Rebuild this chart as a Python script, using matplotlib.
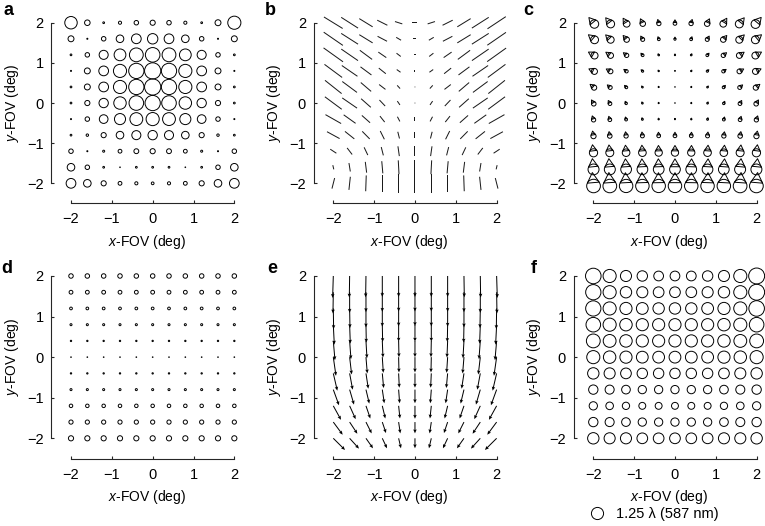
import numpy as np
import matplotlib.pyplot as plt
from matplotlib.patches import Circle, Polygon
from matplotlib.collections import PatchCollection
from matplotlib.lines import Line2D

plt.rcParams['font.family'] = ['Liberation Sans', 'DejaVu Sans']
plt.rcParams['mathtext.fontset'] = 'custom'
plt.rcParams['mathtext.it'] = 'Liberation Sans:italic'
plt.rcParams['mathtext.rm'] = 'Liberation Sans'

# field grid (deg); rows of every table run from y = +2 (top) to y = -2
x_fov = [-2.0, -1.6, -1.2, -0.8, -0.4, 0.0, 0.4, 0.8, 1.2, 1.6, 2.0]
y_fov = [2.0, 1.6, 1.2, 0.8, 0.4, 0.0, -0.4, -0.8, -1.2, -1.6, -2.0]
ticks = [-2, -1, 0, 1, 2]

# a: circle size (lambda)
field_curv = [
    [1.28, 0.57, 0.18, 0.32, 0.46, 0.53, 0.46, 0.32, 0.18, 0.61, 1.35],
    [0.61, 0.11, 0.46, 0.78, 1.00, 1.07, 1.00, 0.78, 0.46, 0.11, 0.61],
    [0.18, 0.46, 0.93, 1.21, 1.42, 1.50, 1.42, 1.21, 0.93, 0.46, 0.18],
    [0.11, 0.61, 1.00, 1.35, 1.57, 1.67, 1.57, 1.35, 1.00, 0.61, 0.11],
    [0.18, 0.61, 1.00, 1.35, 1.57, 1.67, 1.57, 1.35, 1.00, 0.61, 0.18],
    [0.18, 0.53, 0.96, 1.28, 1.50, 1.57, 1.50, 1.28, 0.96, 0.53, 0.18],
    [0.11, 0.46, 0.89, 1.14, 1.32, 1.35, 1.32, 1.14, 0.89, 0.46, 0.11],
    [0.18, 0.25, 0.53, 0.78, 0.93, 0.96, 0.93, 0.78, 0.53, 0.25, 0.18],
    [0.46, 0.11, 0.21, 0.39, 0.50, 0.53, 0.50, 0.39, 0.21, 0.11, 0.46],
    [0.78, 0.46, 0.18, 0.07, 0.18, 0.18, 0.18, 0.07, 0.18, 0.46, 0.78],
    [1.00, 0.78, 0.53, 0.39, 0.32, 0.28, 0.32, 0.39, 0.53, 0.78, 1.00],
]

# b: astigmatism line length (a.u.) and orientation (deg)
astig_len = [
    [66, 60, 47, 34, 23, 15, 23, 34, 47, 60, 66],
    [70, 60, 47, 32, 17, 9, 17, 32, 47, 60, 68],
    [72, 61, 46, 29, 16, 5, 16, 29, 46, 61, 70],
    [66, 57, 41, 27, 14, 4, 14, 27, 41, 57, 66],
    [64, 55, 41, 24, 13, 3, 13, 24, 41, 55, 64],
    [63, 54, 39, 25, 14, 2, 14, 25, 39, 54, 63],
    [54, 44, 33, 23, 16, 12, 16, 23, 33, 44, 54],
    [43, 36, 32, 28, 21, 18, 21, 28, 32, 36, 43],
    [22, 25, 26, 26, 30, 30, 30, 26, 26, 25, 22],
    [13, 26, 33, 37, 42, 44, 42, 37, 33, 26, 13],
    [33, 40, 48, 53, 57, 57, 57, 53, 48, 40, 33],
]
astig_ang = [
    [-32, -33, -32, -27, -18, 0, 18, 27, 32, 33, 34],
    [-35, -33, -32, -28, -31, 0, 31, 28, 32, 33, 35],
    [-36, -35, -37, -35, -38, 0, 38, 35, 37, 35, 36],
    [-37, -35, -37, -39, -36, 90, 36, 39, 37, 35, 37],
    [-39, -37, -41, -38, -48, 90, 48, 38, 41, 37, 39],
    [-37, -35, -42, -47, -56, 90, 56, 47, 42, 35, 37],
    [-30, -36, -42, -52, -63, 90, 63, 52, 42, 36, 30],
    [-29, -39, -46, -64, -76, 90, 76, 64, 46, 39, 29],
    [-34, -53, -65, -76, -82, 90, 82, 76, 65, 53, 34],
    [-77, -81, -83, -85, -87, 90, 87, 85, 83, 81, 77],
    [76, 84, 88, 90, 90, 90, 90, 90, -88, -84, -76],
]

# c: coma blur size (lambda) and tail direction (deg)
coma_size = [
    [1.00, 0.93, 0.78, 0.64, 0.50, 0.43, 0.50, 0.64, 0.78, 0.93, 1.03],
    [0.93, 0.82, 0.64, 0.46, 0.32, 0.25, 0.32, 0.46, 0.64, 0.82, 0.93],
    [0.82, 0.68, 0.50, 0.32, 0.18, 0.14, 0.18, 0.32, 0.50, 0.68, 0.82],
    [0.71, 0.57, 0.39, 0.25, 0.14, 0.07, 0.14, 0.25, 0.39, 0.57, 0.71],
    [0.61, 0.46, 0.32, 0.18, 0.11, 0.04, 0.11, 0.18, 0.32, 0.46, 0.61],
    [0.53, 0.43, 0.28, 0.18, 0.11, 0.04, 0.11, 0.18, 0.28, 0.43, 0.53],
    [0.50, 0.43, 0.32, 0.21, 0.14, 0.11, 0.14, 0.21, 0.32, 0.43, 0.50],
    [0.61, 0.53, 0.50, 0.46, 0.43, 0.43, 0.43, 0.46, 0.50, 0.53, 0.61],
    [0.96, 0.93, 0.89, 0.89, 0.85, 0.85, 0.85, 0.89, 0.89, 0.93, 0.96],
    [1.28, 1.28, 1.25, 1.25, 1.25, 1.25, 1.25, 1.25, 1.25, 1.28, 1.28],
    [1.60, 1.60, 1.57, 1.57, 1.57, 1.57, 1.57, 1.57, 1.57, 1.60, 1.60],
]
coma_ang = [
    [130, 128, 122, 115, 105, 90, 75, 65, 58, 52, 50],
    [140, 135, 130, 120, 108, 90, 72, 60, 50, 45, 40],
    [150, 145, 140, 130, 115, 90, 65, 50, 40, 35, 30],
    [155, 150, 145, 135, 120, 90, 60, 45, 35, 30, 25],
    [140, 138, 132, 125, 112, 90, 68, 55, 48, 42, 40],
    [120, 118, 115, 110, 103, 90, 77, 70, 65, 62, 60],
    [108, 107, 105, 102, 98, 90, 82, 78, 75, 73, 72],
    [100, 99, 98, 96, 94, 90, 86, 84, 82, 81, 80],
    [97, 96, 95, 94, 92, 90, 88, 86, 85, 84, 83],
    [96, 95, 94, 93, 92, 90, 88, 87, 86, 85, 84],
    [95, 94, 93, 92, 91, 90, 89, 88, 87, 86, 85],
]

# d: spherical term (lambda), same along each row
spherical_rows = [0.46, 0.39, 0.28, 0.21, 0.14, 0.07, 0.14, 0.21, 0.36, 0.43, 0.53]

# e: distortion vectors (a.u.)
dist_u = [
    [-2, -1, -1, 0, 0, 0, 0, 0, 1, 1, 2],
    [-1, 0, 0, 0, 0, 0, 0, 0, 0, 0, 1],
    [1, 1, 0, 0, 0, 0, 0, 0, 0, -1, -1],
    [3, 2, 1, 1, 0, 0, 0, -1, -1, -2, -3],
    [5, 4, 3, 2, 1, 0, -1, -2, -3, -4, -5],
    [8, 6, 4, 3, 1, 0, -1, -3, -4, -6, -8],
    [12, 9, 7, 4, 2, 0, -2, -4, -7, -9, -12],
    [17, 13, 10, 6, 3, 0, -3, -6, -10, -13, -17],
    [23, 18, 13, 9, 4, 0, -4, -9, -13, -18, -23],
    [28, 23, 17, 11, 5, 0, -5, -11, -17, -23, -28],
    [35, 28, 21, 14, 7, 0, -7, -14, -21, -28, -35],
]
dist_v = [
    [-66, -65, -64, -63, -63, -63, -63, -63, -64, -65, -66],
    [-64, -62, -60, -59, -58, -58, -58, -59, -60, -62, -64],
    [-62, -59, -57, -55, -54, -53, -54, -55, -57, -59, -62],
    [-60, -57, -54, -52, -51, -51, -51, -52, -54, -57, -60],
    [-58, -55, -52, -50, -49, -49, -49, -50, -52, -55, -58],
    [-56, -52, -49, -47, -46, -46, -46, -47, -49, -52, -56],
    [-52, -49, -46, -44, -43, -43, -43, -44, -46, -49, -52],
    [-47, -45, -42, -41, -41, -41, -41, -41, -42, -45, -47],
    [-42, -40, -38, -38, -38, -39, -38, -38, -38, -40, -42],
    [-38, -35, -34, -33, -34, -34, -34, -33, -34, -35, -38],
    [-35, -31, -30, -30, -30, -30, -30, -30, -30, -31, -35],
]

# f: total wavefront error (lambda)
total_err = [
    [1.60, 1.35, 1.14, 1.07, 1.00, 1.00, 1.00, 1.07, 1.14, 1.35, 1.64],
    [1.57, 1.35, 1.17, 1.14, 1.10, 1.10, 1.10, 1.14, 1.17, 1.35, 1.64],
    [1.57, 1.35, 1.25, 1.21, 1.17, 1.17, 1.17, 1.21, 1.25, 1.35, 1.60],
    [1.50, 1.35, 1.28, 1.25, 1.25, 1.25, 1.25, 1.25, 1.28, 1.35, 1.50],
    [1.42, 1.32, 1.28, 1.25, 1.25, 1.25, 1.25, 1.25, 1.28, 1.32, 1.42],
    [1.35, 1.28, 1.25, 1.21, 1.21, 1.21, 1.21, 1.21, 1.25, 1.28, 1.35],
    [1.17, 1.14, 1.10, 1.07, 1.07, 1.07, 1.07, 1.07, 1.10, 1.14, 1.17],
    [0.96, 0.93, 0.89, 0.85, 0.85, 0.85, 0.85, 0.85, 0.89, 0.93, 0.96],
    [0.85, 0.78, 0.75, 0.71, 0.71, 0.71, 0.71, 0.71, 0.75, 0.78, 0.85],
    [0.96, 0.93, 0.89, 0.85, 0.85, 0.85, 0.85, 0.85, 0.89, 0.93, 0.96],
    [1.17, 1.14, 1.14, 1.10, 1.10, 1.10, 1.10, 1.10, 1.14, 1.14, 1.17],
]

legend_label = '1.25 λ (587 nm)'

LAM_PT = 7.0      # circle diameter in points per lambda
COMA_DEG = 0.21   # comet circle diameter in deg per lambda
LINE_SCALE = 122  # a.u. per deg for b and e
LW = 0.7

X, Y = np.meshgrid(x_fov, y_fov)

fig = plt.figure(figsize=(7.65, 5.26), dpi=100)
W, H = 765, 526


def make_ax(left_px, bottom_px, height_px):
    ax = fig.add_axes([left_px / W, 1 - bottom_px / H, 191.1 / W, height_px / H])
    ax.set_xlim(-2.48, 2.2)
    ax.set_ylim(-2.5, 2.5)
    ax.patch.set_visible(False)
    for s in ['top', 'right']:
        ax.spines[s].set_visible(False)
    for s in ['left', 'bottom']:
        ax.spines[s].set_bounds(-2, 2)
        ax.spines[s].set_linewidth(0.8)
        ax.spines[s].set_color('0.15')
    ax.set_xticks(ticks)
    ax.set_yticks(ticks)
    ax.tick_params(direction='in', length=2.5, width=0.8, color='0.15', labelsize=10.5)
    ax.tick_params(axis='x', pad=6.5)
    ax.tick_params(axis='y', pad=5.5)
    ax.set_xlabel('$x$-FOV (deg)', fontsize=10, labelpad=4.5)
    ax.set_ylabel('$y$-FOV (deg)', fontsize=10, labelpad=4.5)
    return ax


lefts = [51.4, 313.7, 573.7]
ax_a = make_ax(lefts[0], 203.4, 200.75)
ax_b = make_ax(lefts[1], 203.4, 200.75)
ax_c = make_ax(lefts[2], 203.4, 200.75)
ax_d = make_ax(lefts[0], 458.6, 202.9)
ax_e = make_ax(lefts[1], 458.6, 202.9)
ax_f = make_ax(lefts[2], 458.6, 202.9)


def circles(ax, vals):
    v = np.asarray(vals, dtype=float)
    ax.scatter(X, Y, s=(v * LAM_PT) ** 2, facecolors='none', edgecolors='k',
               linewidths=LW, clip_on=False)


# a
circles(ax_a, field_curv)

# b - headless segments centred on the field points
L = np.asarray(astig_len, dtype=float)
A = np.deg2rad(np.asarray(astig_ang, dtype=float))
ax_b.quiver(X, Y, L * np.cos(A), L * np.sin(A), pivot='middle', angles='xy',
            scale_units='xy', scale=LINE_SCALE, units='dots', width=1.0,
            headwidth=0, headlength=0, headaxislength=0, color='0.1', clip_on=False)

# c - comet shapes
patches = []
for i, yv in enumerate(y_fov):
    for j, xv in enumerate(x_fov):
        r = 0.5 * coma_size[i][j] * COMA_DEG
        th = np.deg2rad(coma_ang[i][j])
        u = np.array([np.cos(th), np.sin(th)])
        n = np.array([-u[1], u[0]])
        c = np.array([xv, yv]) - 0.4 * r * u
        patches.append(Circle(c, r))
        apex = c + 2 * r * u
        t1 = c + r * (0.5 * u + np.sqrt(3) / 2 * n)
        t2 = c + r * (0.5 * u - np.sqrt(3) / 2 * n)
        patches.append(Polygon([apex, t1, t2], closed=True))
ax_c.add_collection(PatchCollection(patches, facecolor='none', edgecolor='k',
                                    linewidth=LW, clip_on=False))

# d
circles(ax_d, np.tile(np.asarray(spherical_rows)[:, None], (1, len(x_fov))))

# e - distortion arrows
ax_e.quiver(X, Y, dist_u, dist_v, pivot='tail', angles='xy', scale_units='xy',
            scale=LINE_SCALE, units='dots', width=1.0, headwidth=3.5,
            headlength=4, headaxislength=3.5, color='k', clip_on=False)

# f
circles(ax_f, total_err)

# legend
h = Line2D([], [], marker='o', linestyle='none', markerfacecolor='none',
           markeredgecolor='k', markeredgewidth=LW, markersize=1.25 * LAM_PT)
fig.legend(handles=[h], labels=[legend_label], loc='center left',
           bbox_to_anchor=(590 / W, 1 - 514 / H), frameon=False, borderpad=0,
           borderaxespad=0, handlelength=1.0, handletextpad=0.8, fontsize=10.5)

# panel letters
for lab, xp, yp in [('a', 3, 15), ('b', 265, 15), ('c', 523, 15),
                    ('d', 1, 273), ('e', 267, 273), ('f', 531, 273)]:
    fig.text(xp / W, 1 - yp / H, lab, fontsize=13, fontweight='bold', va='baseline')

fig.savefig('out.png', dpi=100)
